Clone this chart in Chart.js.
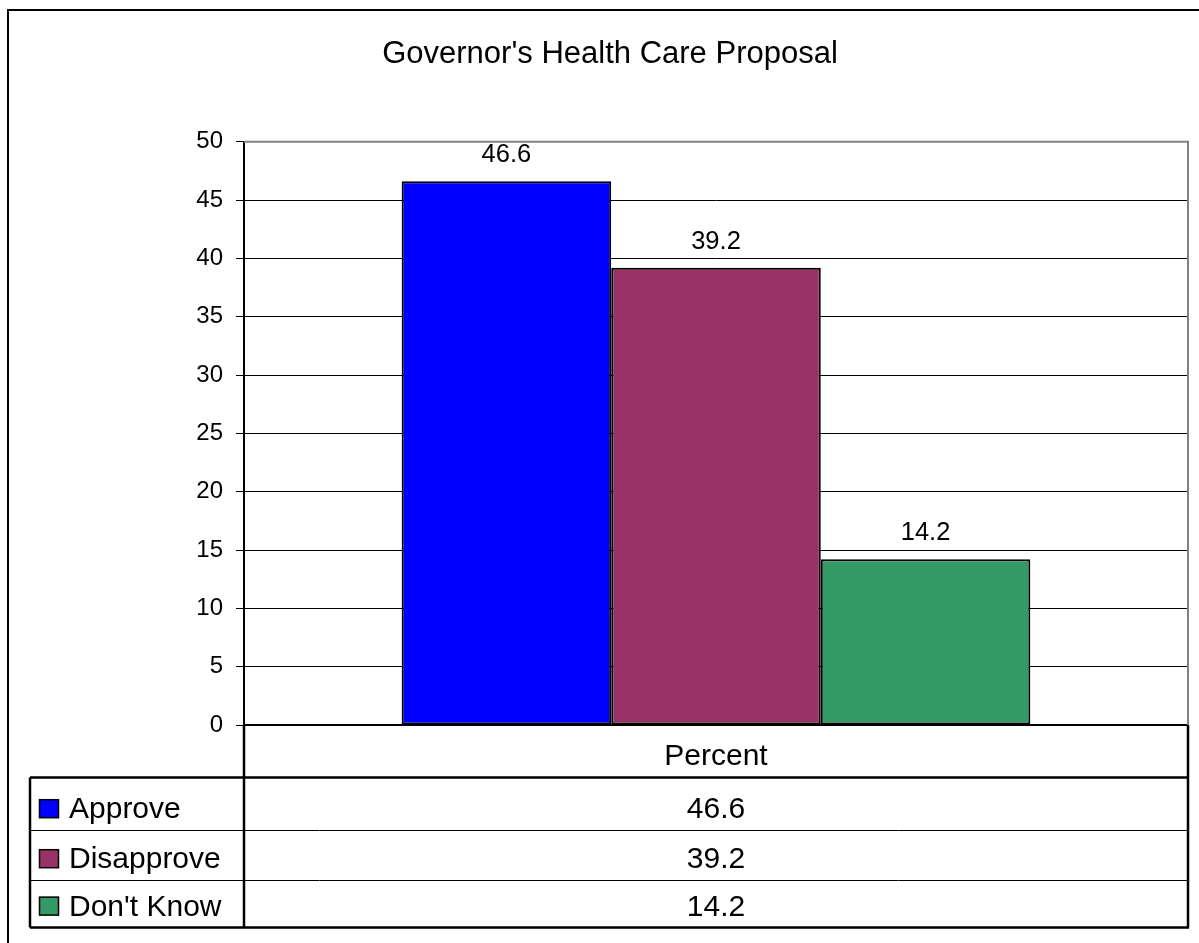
<!DOCTYPE html>
<html>
<head>
<meta charset="utf-8">
<title>Governor's Health Care Proposal</title>
<script src="https://cdn.jsdelivr.net/npm/chart.js@4.4.0/dist/chart.umd.min.js"></script>
<style>
  html, body { margin: 0; padding: 0; background: #fff; overflow: hidden; }
  canvas { display: block; }
</style>
</head>
<body>
<canvas id="chart" width="1199" height="943"></canvas>
<script>
// Chart data
const chartTitle = "Governor's Health Care Proposal";
const categories = ["Percent"];
const seriesNames = ["Approve", "Disapprove", "Don't Know"];
const approveValues = [46.6];
const disapproveValues = [39.2];
const dontKnowValues = [14.2];
const seriesColors = ["#0000ff", "#993366", "#339966"];
const yMin = 0, yMax = 50, yStep = 5;

const seriesValues = [approveValues, disapproveValues, dontKnowValues];
const FONT = "'Liberation Sans', Arial, sans-serif";

Chart.defaults.font.family = FONT;
Chart.defaults.color = "#000";

// white page + outer black frame
const background = {
  id: "background",
  beforeDraw(chart) {
    const ctx = chart.ctx;
    ctx.save();
    ctx.fillStyle = "#fff";
    ctx.fillRect(0, 0, chart.width, chart.height);
    ctx.strokeStyle = "#000";
    ctx.lineWidth = 2;
    ctx.strokeRect(8, 10, chart.width + 40, chart.height + 40);
    ctx.restore();
  }
};

// value labels above each bar
const barLabels = {
  id: "barLabels",
  afterDatasetsDraw(chart) {
    const ctx = chart.ctx;
    ctx.save();
    ctx.font = "25.5px " + FONT;
    ctx.fillStyle = "#000";
    ctx.textAlign = "center";
    ctx.textBaseline = "alphabetic";
    chart.data.datasets.forEach((ds, i) => {
      chart.getDatasetMeta(i).data.forEach((bar, j) => {
        ctx.fillText(ds.data[j].toFixed(1), bar.x, bar.y - 19);
      });
    });
    ctx.restore();
  }
};

// plot border and the data table under the chart
const dataTable = {
  id: "dataTable",
  beforeDatasetsDraw(chart) {
    // gray plot border (top and right), under the labels
    const ctx = chart.ctx;
    const a = chart.chartArea;
    ctx.save();
    ctx.strokeStyle = "#808080";
    ctx.lineWidth = 2;
    ctx.beginPath();
    ctx.moveTo(a.left, a.top);
    ctx.lineTo(a.right, a.top);
    ctx.lineTo(a.right, a.bottom);
    ctx.stroke();
    ctx.restore();
  },
  afterDraw(chart) {
    const ctx = chart.ctx;
    const a = chart.chartArea;
    const rows = [a.bottom, a.bottom + 52.6, a.bottom + 105.2, a.bottom + 155.2, a.bottom + 202.6];
    const keyLeft = 30;
    ctx.save();

    // table lines
    ctx.strokeStyle = "#000";
    ctx.lineWidth = 2.5;
    ctx.beginPath();
    ctx.moveTo(a.left, a.bottom);
    ctx.lineTo(a.left, rows[4]);
    ctx.moveTo(a.right, a.bottom);
    ctx.lineTo(a.right, rows[4]);
    ctx.moveTo(keyLeft, rows[1]);
    ctx.lineTo(a.right, rows[1]);
    ctx.moveTo(keyLeft, rows[1]);
    ctx.lineTo(keyLeft, rows[4]);
    ctx.moveTo(keyLeft, rows[4]);
    ctx.lineTo(a.right + 1, rows[4]);
    ctx.stroke();
    ctx.lineWidth = 1;
    ctx.beginPath();
    for (let r = 2; r < 4; r++) {
      ctx.moveTo(keyLeft, Math.round(rows[r]) + 0.5);
      ctx.lineTo(a.right, Math.round(rows[r]) + 0.5);
    }
    ctx.stroke();

    // header + values
    const midX = (a.left + a.right) / 2;
    ctx.font = "30px " + FONT;
    ctx.fillStyle = "#000";
    ctx.textBaseline = "alphabetic";
    ctx.textAlign = "center";
    ctx.fillText(chart.data.labels[0], midX, rows[1] - 13);
    chart.data.datasets.forEach((ds, i) => {
      const base = rows[i + 2] - 12;
      ctx.textAlign = "center";
      ctx.fillStyle = "#000";
      ctx.fillText(ds.data[0].toFixed(1), midX, base);
      // legend key
      ctx.fillStyle = ds.backgroundColor;
      ctx.fillRect(39.5, base - 18.5, 19, 18);
      ctx.lineWidth = 1.5;
      ctx.strokeStyle = "#000";
      ctx.strokeRect(39.5, base - 18.5, 19, 18);
      ctx.fillStyle = "#000";
      ctx.textAlign = "left";
      ctx.fillText(ds.label, 69, base);
    });
    ctx.restore();
  }
};

new Chart(document.getElementById("chart"), {
  type: "bar",
  data: {
    labels: categories,
    datasets: seriesNames.map((name, i) => ({
      label: name,
      data: seriesValues[i],
      backgroundColor: seriesColors[i],
      borderColor: "#000",
      borderWidth: 2,
      borderSkipped: false,
      barPercentage: 1,
      categoryPercentage: 0.666
    }))
  },
  options: {
    responsive: false,
    animation: false,
    layout: { padding: { left: 32, right: 11, top: 0, bottom: 218 } },
    plugins: {
      legend: { display: false },
      tooltip: { enabled: false },
      title: {
        display: true,
        text: chartTitle,
        color: "#000",
        font: { size: 31, weight: "normal", family: FONT, lineHeight: 1.2 },
        padding: { top: 35.4, bottom: 69.1 }
      }
    },
    scales: {
      x: {
        ticks: { display: false },
        grid: { display: false, drawTicks: false },
        border: { display: true, color: "#000", width: 2 },
        afterFit(scale) { scale.height = 0; }
      },
      y: {
        min: yMin,
        max: yMax,
        ticks: { stepSize: yStep, padding: 13, color: "#000", font: { size: 24, family: FONT } },
        grid: {
          color: ctx => ctx.tick && ctx.tick.value === yMax ? "#808080" : "#000",
          lineWidth: 1,
          tickColor: "#000",
          tickLength: 8
        },
        border: { display: true, color: "#000", width: 2 },
        afterFit(scale) { scale.width = 212; }
      }
    }
  },
  plugins: [background, barLabels, dataTable]
});
</script>
</body>
</html>
